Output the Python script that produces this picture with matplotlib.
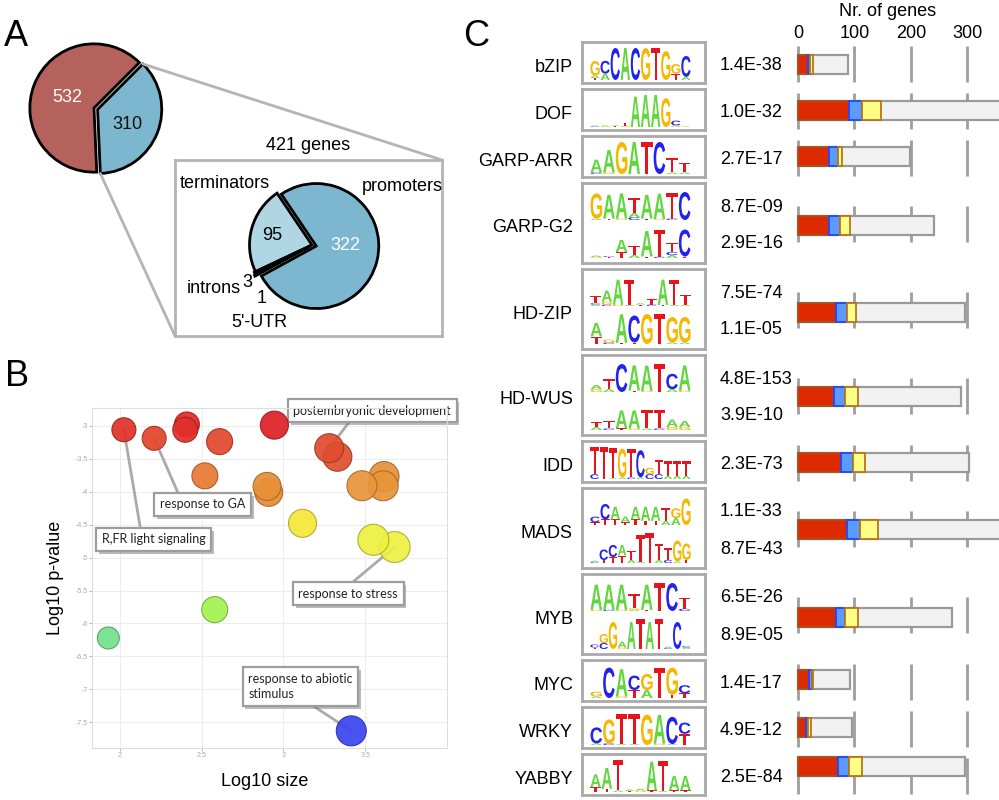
import matplotlib
matplotlib.use('Agg')

import matplotlib.pyplot as plt
import matplotlib.colors as mc
import matplotlib.patheffects as pe
import numpy as np
from matplotlib.patches import PathPatch, ConnectionPatch
from matplotlib.textpath import TextPath
from matplotlib.font_manager import FontProperties
from matplotlib.transforms import Affine2D

# ---------------- data ----------------
# A: genes split, and where the sites of the 421 genes sit
split_counts = [532, 310]
region_names = ['terminators', 'introns', "5'-UTR", 'promoters']
region_counts = [95, 3, 1, 322]
region_total = 421

# B: GO term bubbles
go_size = [2.41, 2.40, 2.025, 2.21, 2.61, 2.945, 3.33, 3.28, 2.52, 2.91,
           2.90, 3.615, 3.61, 3.48, 3.117, 3.68, 3.55, 2.58, 1.93, 3.415]
go_pval = [-2.98, -3.06, -3.06, -3.19, -3.24, -2.99, -3.47, -3.34, -3.76, -4.01,
           -3.92, -3.77, -3.91, -3.91, -4.48, -4.84, -4.73, -5.79, -6.22, -7.63]
go_bubble = [12.5, 12.5, 12, 12, 13, 14, 14.5, 14.5, 13, 14,
             14, 15, 15, 15, 14, 15.5, 15.5, 13, 11, 15]
go_colors = ['#e12a2a', '#e0302b', '#e03228', '#e2452d', '#e2482e', '#dd2228',
             '#e0502f', '#e04c2e', '#e87a35', '#e88c35', '#e88f38', '#e8903a',
             '#e8943b', '#e8963c', '#f5e83a', '#eef044', '#eef040', '#a2f352',
             '#72e08e', '#3d45f2']
go_names = ['postembryonic development', 'response to GA', 'R,FR light signaling',
            'response to stress', 'response to abiotic\nstimulus']
go_named_idx = [7, 3, 2, 15, 19]

# C: motifs per TF family
tf_names = ['bZIP', 'DOF', 'GARP-ARR', 'GARP-G2', 'HD-ZIP', 'HD-WUS', 'IDD',
            'MADS', 'MYB', 'MYC', 'WRKY', 'YABBY']
tf_pvals = [['1.4E-38'], ['1.0E-32'], ['2.7E-17'], ['8.7E-09', '2.9E-16'],
            ['7.5E-74', '1.1E-05'], ['4.8E-153', '3.9E-10'], ['2.3E-73'],
            ['1.1E-33', '8.7E-43'], ['6.5E-26', '8.9E-05'], ['1.4E-17'],
            ['4.9E-12'], ['2.5E-84']]
# columns split by spaces, letters top to bottom, height in % of full
tf_motifs = [
    ['G45+A8+T6 C40+A20 C100 A100 C100 G100 T100 G90 G30+T20 C65+A10'],
    ['A3+C2 A3+G2 A2+T3 T10+G4 A95 A100 A100 G90 C15+G5 A2'],
    ['A40+C5 A70+G5 G100 A100 T100 C100 T45+A5 T30+A5'],
    ['G90+A5 A85+T5 A90+G5 T55+A15+C10 A85+T5 A90+G4 T90+C5 C100',
     'A5+G3 C3+T3 A40+T20 T30+A10 A85+T5 T90+C4 T30+C10+A10 C90+T5'],
    ['T25+C5+A5 A40+G10+C5 A90+G4 T90+A4 A5+T5 T20+C5 A90+T4 T90+A4 T35+A5',
     'A45+T25 G10+C5 A95+T4 C90+T5 G100 T100 G85+A5 G85+A5'],
    ['A15+G10 T35+A10 C100 A90+T5 A90+G4 T100 C55+A10 A90+G5',
     'T15+A10 T25+C5 A60+T5 A60+G5 T60+A5 T60+C5 A25+G10 A20+G10'],
    ['T85+C15 T100 T95+A3 G90+A5 T90+C5 C85+A5 G20+C15 T45+C15 T45+A10 T45+A10 T45+A10'],
    ['C20+T10 C55+T20 A45+T20 A20+T10 A45+T20 A50+T15 A50+T15 T45+A15 G35+A25 G95',
     'A5+C3 C35+T10 C40+T20 A35+T25 T30+A10 T90+A5 T100 T55+A10 T40+C10 G70+A5 G55+T10'],
    ['A90+G4 A90+C4 A90+G4 T50+G5+A5 A90+T4 T100 C100 T40+C8',
     'C10+T5 G30+C20 G90 A20+G5 A90 T100 A90 T100 A5+C3 C90 C5+A5'],
    ['G15+A5 C95 A85+G5 C45+T25 G50+A25 T95 G85+T10 C25+T15'],
    ['C50+A5 G75+C5 T95+A3 T95+A3 G95 A90+G4 C85+A3 C35+T35'],
    ['A40+T15 A65+T10 T95+A5 A5+T3 A5+G5 A90+T5 T95+A3 A45+T5 A45+T5'],
]
genes_red = [18, 90, 55, 55, 67, 63, 76, 87, 67, 19, 14, 71]
genes_blue = [4, 24, 16, 20, 19, 20, 21, 22, 16, 6, 4, 19]
genes_yellow = [5, 33, 7, 17, 17, 24, 21, 33, 24, 1, 5, 24]
genes_total = [89, 380, 198, 240, 296, 288, 303, 380, 272, 92, 96, 296]

# ---------------- layout ----------------
W, H = 999, 800
plt.rcParams['font.family'] = ['Liberation Sans', 'DejaVu Sans']
fig = plt.figure(figsize=(W / 100, H / 100), dpi=100)


def px_axes(x0, y0, x1, y1):
    return fig.add_axes([x0 / W, 1 - y1 / H, (x1 - x0) / W, (y1 - y0) / H])


def fig_text(x, y, s, **kw):
    return fig.text(x / W, 1 - y / H, s, **kw)


for lab, x, y in [('A', 16, 36), ('B', 17, 377), ('C', 476, 36)]:
    fig_text(x, y, lab, fontsize=26, ha='center', va='center')

GREY = '#b4b4b4'
EDGE = dict(edgecolor='black', linewidth=2)

# ---- A: big pie
axA = px_axes(94 - 77, 108 - 77, 94 + 77, 108 + 77)
start = 45
axA.pie(split_counts, colors=['#b5625c', '#7db6cf'], startangle=start,
        explode=[0, 0.06], wedgeprops=EDGE)
axA.set_xlim(-1.2, 1.2)
axA.set_ylim(-1.2, 1.2)
axA.text(-0.41, 0.16, str(split_counts[0]), color='white', fontsize=13, ha='center', va='center')
axA.text(0.52, -0.25, str(split_counts[1]), color='#111111', fontsize=13, ha='center', va='center')

a_top = np.deg2rad(start)
a_bot = np.deg2rad(start + 360 * split_counts[0] / sum(split_counts))
a_mid = (a_bot + a_top + 2 * np.pi) / 2
off = 0.06 * np.array([np.cos(a_mid), np.sin(a_mid)])
p_top = np.array([np.cos(a_top), np.sin(a_top)]) + off
p_bot = np.array([np.cos(a_bot), np.sin(a_bot)]) + off

box = px_axes(175, 160, 442, 336)
box.set_xticks([])
box.set_yticks([])
for sp in box.spines.values():
    sp.set_color(GREY)
    sp.set_linewidth(2)
for pA, pB in [(p_top, (1, 1)), (p_bot, (0, 0))]:
    con = ConnectionPatch(xyA=pA, coordsA=axA.transData, xyB=pB, coordsB=box.transAxes,
                          color=GREY, lw=2)
    fig.add_artist(con)
fig_text(308, 146, '%d genes' % region_total, fontsize=13, ha='center', va='center')

# ---- A: inset pie
axA2 = px_axes(312 - 75, 245 - 75, 312 + 75, 245 + 75)
axA2.pie(region_counts, colors=['#b0d5e3', '#5b9db8', '#a9d0e0', '#7db6cf'],
         startangle=124, explode=[0, 0.02, 0.04, 0.07], wedgeprops=EDGE)
axA2.set_xlim(-1.2, 1.2)
axA2.set_ylim(-1.2, 1.2)
axA2.text(-0.63, 0.15, str(region_counts[0]), fontsize=13, ha='center', va='center')
axA2.text(0.53, 0.0, str(region_counts[3]), fontsize=13, color='white', ha='center', va='center')
axA2.text(-1.4, 0.98, region_names[0], fontsize=13, ha='center', va='center')
axA2.text(1.45, 0.94, region_names[3], fontsize=13, ha='center', va='center')
axA2.text(-1.14, -0.69, region_names[1], fontsize=13, ha='right', va='center')
axA2.text(-1.03, -0.6, str(region_counts[1]), fontsize=13, ha='center', va='center')
axA2.text(-0.81, -0.85, str(region_counts[2]), fontsize=13, ha='center', va='center')
axA2.text(-0.84, -1.24, region_names[2], fontsize=13, ha='center', va='center')

# ---- B: bubble plot
axB = px_axes(92, 408, 447, 748)
s = [(2 * r * 0.72) ** 2 for r in go_bubble]
edges = [np.array(mc.to_rgb(c)) * 0.72 for c in go_colors]
axB.scatter(go_size, go_pval, s=s, c=go_colors, edgecolors=edges, linewidths=0.8,
            alpha=0.93, zorder=3)
axB.set_xlim(1.83, 4.0)
axB.set_ylim(-7.89, -2.73)
axB.set_xticks([2, 2.5, 3, 3.5])
axB.set_xticklabels(['2', '2.5', '3', '3.5'])
yt = np.arange(-7.5, -2.9, 0.5)
axB.set_yticks(yt)
axB.set_yticklabels(['%g' % v for v in yt])
axB.tick_params(labelsize=5, colors='#aaaaaa', length=2, width=0.6, pad=1)
axB.grid(color='#ededed', lw=0.8)
axB.set_axisbelow(True)
for sp in axB.spines.values():
    sp.set_color('#dddddd')

label_pos = [(3.061, -2.772), (2.245, -4.193), (1.89, -4.725), (3.092, -5.546), (2.785, -6.959)]
label_rel = [(0.38, 0), (0.24, 1), (0.38, 1), (0.48, 1), (0.54, 0)]
for name, idx, xyt, rp in zip(go_names, go_named_idx, label_pos, label_rel):
    t = axB.annotate(name, xy=(go_size[idx], go_pval[idx]), xytext=xyt,
                     ha='left', va='center', fontsize=9, family=['Lato', 'DejaVu Sans'],
                     color='#222222', linespacing=1.35, zorder=2,
                     bbox=dict(boxstyle='square,pad=0.45', fc='white', ec='#9d9d9d', lw=1.6),
                     arrowprops=dict(arrowstyle='-', color='#aaaaaa', lw=2, relpos=rp,
                                     shrinkA=0, shrinkB=0))
    t.get_bbox_patch().set_path_effects([
        pe.SimplePatchShadow(offset=(2, -2), shadow_rgbFace='#777777', alpha=0.5), pe.Normal()])

fig_text(55, 578, 'Log10 p-value', fontsize=13, rotation=90, ha='center', va='center')
fig_text(265, 781, 'Log10 size', fontsize=13, ha='center', va='center')

# ---- C: logos, p-values and bars
LOGO_FONT = FontProperties(family='Liberation Sans', weight='bold')
LOGO_COLORS = {'A': '#62d63e', 'C': '#2222f0', 'G': '#f4b800', 'T': '#e8141c'}


def draw_letter(ax, ch, x, y, w, h):
    tp = TextPath((0, 0), ch, size=1, prop=LOGO_FONT)
    bb = tp.get_extents()
    tr = Affine2D().translate(-bb.x0, -bb.y0).scale(w / bb.width, h / bb.height).translate(x, y)
    ax.add_patch(PathPatch(tr.transform_path(tp), fc=LOGO_COLORS[ch], ec='none'))


def draw_logo(ax, motif, base, full, x0=8, x1=109):
    cols = motif.split()
    cw = (x1 - x0) / len(cols)
    for i, col in enumerate(cols):
        y = base
        for part in reversed(col.split('+')):
            h = int(part[1:]) / 100 * full
            draw_letter(ax, part[0], x0 + i * cw + cw * 0.04, y, cw * 0.92, h)
            y += h


tops = []
y = 42
for pv in tf_pvals:
    h = 41 if len(pv) == 1 else 80
    tops.append((y, h))
    y += h + 6

# bars sit a little off the logo box centre in the original
bar_shift = [1.5, 0.5, -0.5, 2.5, 3, 1, 0.5, 1, 3.5, -1.5, -0.5, -8.5]

axC = px_axes(795, 42, 999, 800)
axC.set_xlim(-5.3, 355.8)
axC.set_ylim(800, 42)
box_mid = [t + h / 2 for t, h in tops]
bar_y = [m + d for m, d in zip(box_mid, bar_shift)]
for yy in box_mid:
    axC.vlines([0, 100, 200, 300], yy - 17, yy + 19, color='#9e9e9e', lw=2, zorder=0)
red = np.array(genes_red)
blue = np.array(genes_blue)
yel = np.array(genes_yellow)
axC.barh(bar_y, genes_total, height=19, color='#f2f2f2', edgecolor='#9a9a9a', lw=1.6, zorder=1)
axC.barh(bar_y, red, height=19, color='#dd2a00', edgecolor='#a8501c', lw=1.3, zorder=2)
axC.barh(bar_y, blue, left=red, height=19, color='#5b9bff', edgecolor='#2146ff', lw=1.3, zorder=2)
axC.barh(bar_y, yel, left=red + blue, height=19, color='#ffff88', edgecolor='#b8741a', lw=1.3, zorder=2)
axC.xaxis.tick_top()
axC.set_xticks([0, 100, 200, 300])
axC.tick_params(axis='x', length=0, labelsize=13, pad=0)
axC.set_yticks([])
for sp in axC.spines.values():
    sp.set_visible(False)
fig_text(888, 12, 'Nr. of genes', fontsize=13, ha='center', va='center')

for name, pv, motifs, (top, h) in zip(tf_names, tf_pvals, tf_motifs, tops):
    fig_text(573, top + h / 2 + 9.5, name, fontsize=13, ha='right', va='baseline')
    lg = px_axes(582, top, 705, top + h)
    lg.set_xlim(0, 123)
    lg.set_ylim(0, h)
    lg.set_xticks([])
    lg.set_yticks([])
    for sp in lg.spines.values():
        sp.set_color('#a9a9a9')
        sp.set_linewidth(2)
    if len(motifs) == 1:
        draw_logo(lg, motifs[0], 3, 32)
        fig_text(720, top + h / 2 + 3, pv[0], fontsize=13, ha='left', va='center')
    else:
        draw_logo(lg, motifs[0], 43, 28)
        draw_logo(lg, motifs[1], 5, 30)
        fig_text(720, top + 24, pv[0], fontsize=13, ha='left', va='center')
        fig_text(720, top + 61, pv[1], fontsize=13, ha='left', va='center')

plt.savefig('out.png', dpi=100)
plt.close('all')
